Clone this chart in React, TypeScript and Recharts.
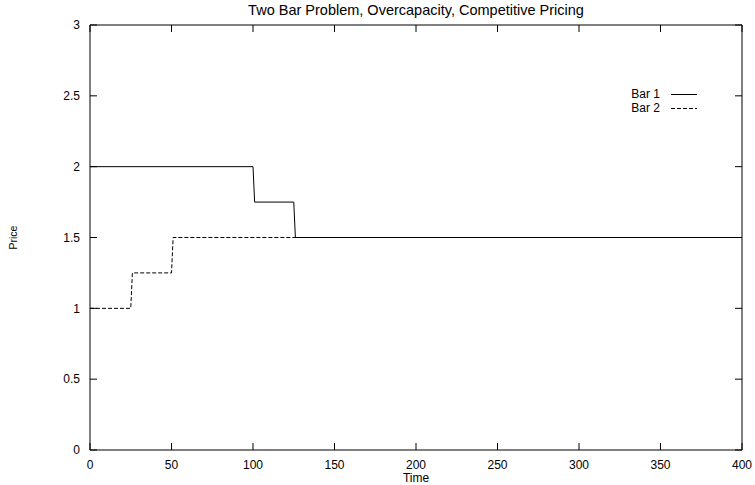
import React from 'react';
import { LineChart, Line, XAxis, YAxis, Legend } from 'recharts';

const bar1Time = [0, 100, 101, 125, 126, 400];
const bar1Price = [2, 2, 1.75, 1.75, 1.5, 1.5];
const bar2Time = [0, 25, 26, 50, 51, 400];
const bar2Price = [1, 1, 1.25, 1.25, 1.5, 1.5];
const timeTicks = [0, 50, 100, 150, 200, 250, 300, 350, 400];
const priceTicks = [0, 0.5, 1, 1.5, 2, 2.5, 3];

const bar1 = bar1Time.map((t, i) => ({ time: t, price: bar1Price[i] }));
const bar2 = bar2Time.map((t, i) => ({ time: t, price: bar2Price[i] }));

const FONT = '"Liberation Sans", Arial, Helvetica, sans-serif';

// plot frame (from chart margins + axis sizes) and inward tick length
const TOP = 25;
const BOTTOM = 450;
const LEFT = 90;
const RIGHT = 742;
const TICK = 7;

const TimeTick = ({ x, y, payload }: any) => (
  <g>
    <line x1={x} x2={x} y1={BOTTOM} y2={BOTTOM - TICK} stroke="#000" />
    <line x1={x} x2={x} y1={TOP} y2={TOP + TICK} stroke="#000" />
    <text x={x} y={y} dy="0.71em" textAnchor="middle" fill="#000" fontSize={12} fontFamily={FONT}>
      {payload.value}
    </text>
  </g>
);

const PriceTick = ({ x, y, payload }: any) => (
  <g>
    <line x1={LEFT} x2={LEFT + TICK} y1={y} y2={y} stroke="#000" />
    <line x1={RIGHT} x2={RIGHT - TICK} y1={y} y2={y} stroke="#000" />
    <text x={x} y={y} dy="0.355em" textAnchor="end" fill="#000" fontSize={12} fontFamily={FONT}>
      {payload.value}
    </text>
  </g>
);

const LegendBox = ({ payload }: any) => (
  <div style={{ fontFamily: FONT, fontSize: 12, color: '#000' }}>
    {(payload || []).map((p: any) => (
      <div key={p.value} style={{ display: 'flex', alignItems: 'center', height: 14 }}>
        <span style={{ width: 100, textAlign: 'right', lineHeight: '14px' }}>{p.value}</span>
        <svg width={37} height={14}>
          <line x1={11} x2={37} y1={7.5} y2={7.5} stroke="#000" strokeWidth={1}
            strokeDasharray={p.payload && p.payload.strokeDasharray} />
        </svg>
      </div>
    ))}
  </div>
);

export default function App() {
  return (
    <div style={{ position: 'absolute', left: 0, top: 0, width: 755, height: 485, background: '#fff' }}>
      <div style={{ position: 'absolute', left: LEFT, width: RIGHT - LEFT, top: 2, textAlign: 'center', fontFamily: FONT, fontSize: 14.5, color: '#000' }}>
        Two Bar Problem, Overcapacity, Competitive Pricing
      </div>
      <LineChart width={755} height={485} margin={{ top: TOP, right: 755 - RIGHT, left: 0, bottom: 0 }}>
        {/* top/right axes only give the frame lines */}
        <XAxis xAxisId="t" orientation="top" mirror dataKey="time" type="number" domain={[0, 400]}
          ticks={timeTicks} stroke="#000" tick={false} tickLine={false} />
        <YAxis yAxisId="r" orientation="right" mirror type="number" domain={[0, 3]} ticks={priceTicks}
          stroke="#000" tick={false} tickLine={false} />
        <XAxis xAxisId="b" dataKey="time" type="number" domain={[0, 400]} ticks={timeTicks}
          allowDataOverflow height={485 - BOTTOM} stroke="#000" tickLine={false} tickSize={0} tickMargin={10}
          tick={<TimeTick />}
          label={{ value: 'Time', position: 'insideBottom', offset: 3, style: { fill: '#000', fontSize: 12, fontFamily: FONT } }} />
        <YAxis yAxisId="l" type="number" domain={[0, 3]} ticks={priceTicks} width={LEFT} stroke="#000"
          tickLine={false} tickSize={0} tickMargin={10} tick={<PriceTick />}
          label={{ value: 'Price', angle: -90, position: 'insideLeft', offset: 13, style: { fill: '#000', fontSize: 10.5, fontFamily: FONT, textAnchor: 'middle' } }} />
        <Line xAxisId="b" yAxisId="l" data={bar1} dataKey="price" name="Bar 1" type="linear" stroke="#000"
          strokeWidth={1} dot={false} isAnimationActive={false} />
        <Line xAxisId="b" yAxisId="l" data={bar2} dataKey="price" name="Bar 2" type="linear" stroke="#000"
          strokeWidth={1} strokeDasharray="4 2" dot={false} isAnimationActive={false} />
        <Legend layout="vertical" align="center" verticalAlign="middle" content={<LegendBox />}
          wrapperStyle={{ position: 'absolute', left: 560, top: 87, width: 140 }} />
      </LineChart>
    </div>
  );
}
